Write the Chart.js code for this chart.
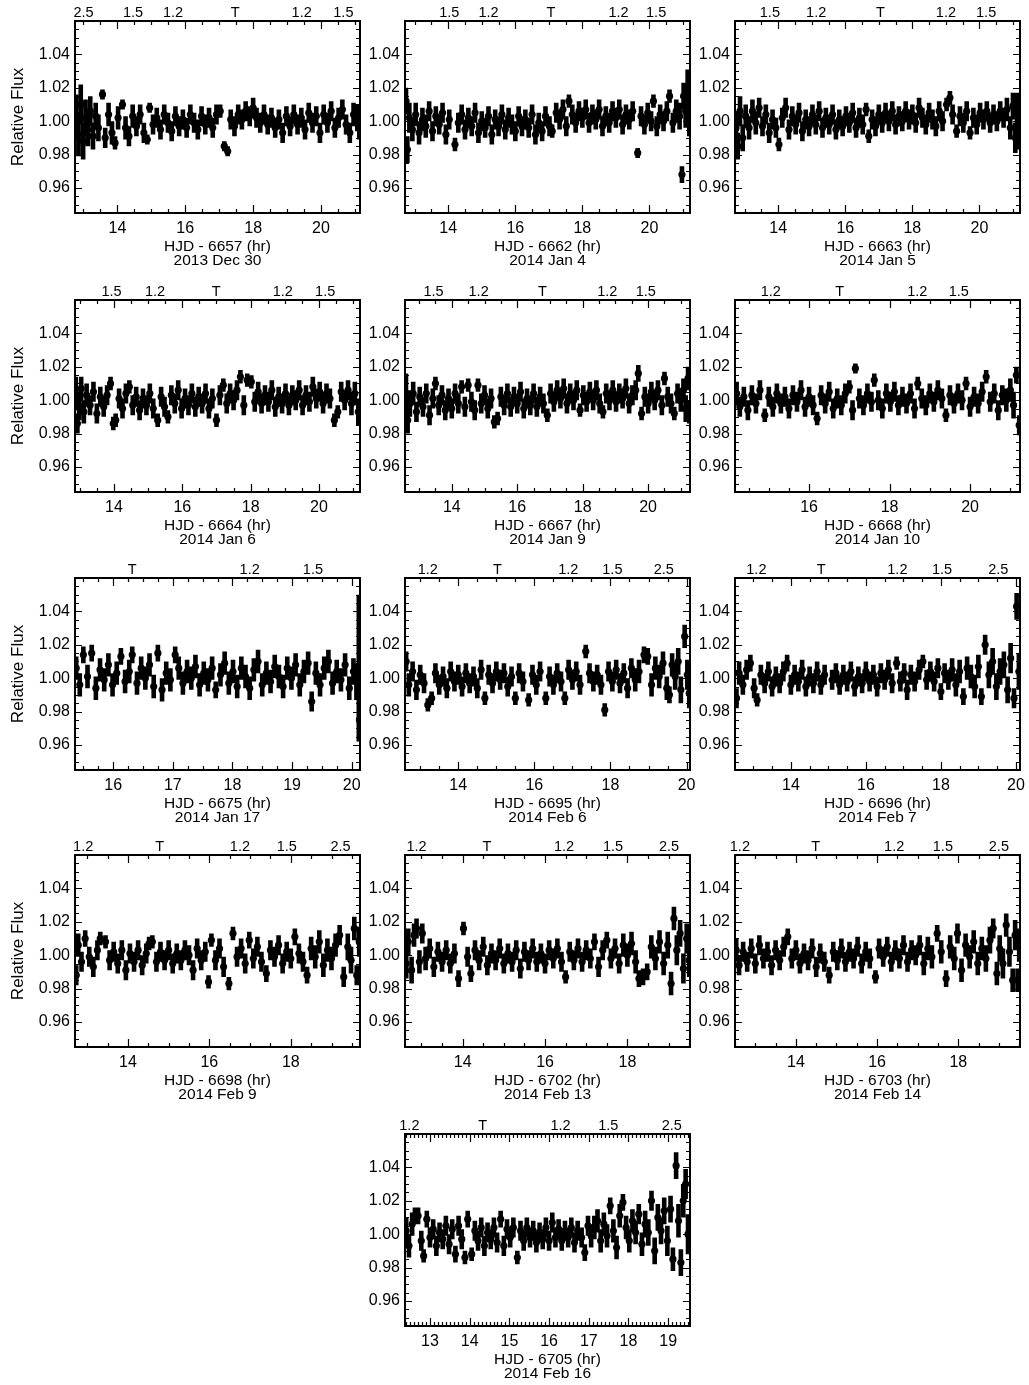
<!DOCTYPE html>
<html>
<head>
<meta charset="utf-8">
<title>Relative flux light curves</title>
<script src="https://cdn.jsdelivr.net/npm/chart.js@4.4.1/dist/chart.umd.min.js"></script>
<style>
  body { margin: 0; background: #fff; }
  #page { position: relative; width: 1029px; height: 1385px; }
  #page canvas { position: absolute; }
</style>
</head>
<body>
<div id="page"></div>
<script>
// each night: [hour, relative flux, error]
const dec30 = [[12.78,1.004,.012],[12.85,0.992,.013],[12.92,1.010,.012],[12.99,0.988,.011],[13.06,1.002,.011],[13.13,0.995,.010],[13.20,1.006,.009],[13.28,0.991,.008],[13.36,1.003,.008],[13.44,0.996,.008],[13.56,1.016,.003],[13.64,0.990,.006],[13.74,1.004,.007],[13.84,0.993,.007],[13.93,0.987,.004],[14.02,1.002,.007],[14.15,1.010,.003],[14.24,0.996,.007],[14.34,0.991,.006],[14.45,1.003,.007],[14.56,0.997,.006],[14.67,1.004,.006],[14.78,0.993,.006],[14.88,0.989,.003],[14.95,1.008,.003],[15.05,0.998,.006],[15.16,1.002,.006],[15.27,0.995,.006],[15.38,1.004,.006],[15.49,0.999,.006],[15.60,0.994,.006],[15.71,1.003,.006],[15.82,0.997,.006],[15.93,1.001,.006],[16.04,0.996,.006],[16.15,1.004,.006],[16.26,0.999,.006],[16.37,0.995,.006],[16.48,1.003,.006],[16.59,0.998,.006],[16.70,1.002,.006],[16.81,0.996,.006],[16.92,1.004,.006],[17.03,1.006,.004],[17.15,0.985,.003],[17.25,0.982,.003],[17.34,1.001,.006],[17.45,0.997,.006],[17.56,1.004,.006],[17.67,1.001,.006],[17.78,1.006,.006],[17.90,1.003,.006],[18.00,1.008,.006],[18.10,1.002,.006],[18.21,0.999,.006],[18.32,1.004,.006],[18.43,0.998,.006],[18.54,1.002,.006],[18.65,0.996,.006],[18.76,1.001,.006],[18.87,0.993,.006],[18.98,1.003,.006],[19.09,0.997,.006],[19.20,1.004,.006],[19.31,0.998,.006],[19.42,1.002,.006],[19.53,0.995,.006],[19.64,1.005,.006],[19.75,0.999,.006],[19.86,1.003,.006],[19.97,0.993,.006],[20.08,1.004,.006],[20.19,0.999,.006],[20.30,1.006,.006],[20.41,0.996,.006],[20.52,1.002,.006],[20.63,1.007,.006],[20.74,0.998,.006],[20.85,0.993,.006],[20.96,1.004,.007],[21.07,1.002,.008],[21.13,0.998,.009]];
const jan04 = [[12.74,1.012,.008],[12.78,0.983,.008],[12.84,1.002,.009],[12.93,0.995,.007],[13.03,1.004,.007],[13.13,0.993,.007],[13.23,1.001,.007],[13.33,0.997,.007],[13.43,1.006,.006],[13.53,0.994,.006],[13.63,1.003,.006],[13.73,0.998,.006],[13.83,1.005,.006],[13.93,0.992,.006],[14.03,1.001,.006],[14.20,0.986,.004],[14.30,0.999,.006],[14.40,1.004,.006],[14.50,0.995,.006],[14.60,1.002,.006],[14.70,0.997,.006],[14.80,1.005,.006],[14.90,0.993,.006],[15.00,1.000,.006],[15.10,0.996,.006],[15.20,1.003,.006],[15.30,0.992,.006],[15.40,1.001,.006],[15.50,0.997,.006],[15.60,1.004,.006],[15.70,0.995,.006],[15.80,1.002,.006],[15.90,0.998,.006],[16.00,0.994,.006],[16.10,1.003,.006],[16.20,0.997,.006],[16.30,1.001,.006],[16.40,0.996,.006],[16.50,1.004,.006],[16.60,0.992,.006],[16.70,0.999,.006],[16.80,0.994,.006],[16.90,1.003,.006],[17.02,0.997,.006],[17.10,0.994,.004],[17.22,1.005,.006],[17.32,1.001,.006],[17.42,1.007,.006],[17.52,0.997,.006],[17.60,1.012,.004],[17.70,1.004,.006],[17.80,0.999,.006],[17.90,1.006,.006],[18.00,1.002,.006],[18.10,1.007,.006],[18.20,0.999,.006],[18.30,1.004,.006],[18.40,1.001,.006],[18.50,1.007,.006],[18.60,0.997,.006],[18.70,1.003,.006],[18.80,0.999,.006],[18.90,1.006,.006],[19.00,1.002,.006],[19.10,1.007,.006],[19.20,0.998,.006],[19.30,1.004,.006],[19.40,1.001,.006],[19.50,1.006,.006],[19.65,0.981,.003],[19.75,1.003,.006],[19.85,0.998,.006],[19.95,1.005,.006],[20.05,1.000,.006],[20.12,1.012,.004],[20.22,0.997,.006],[20.32,1.004,.006],[20.42,1.000,.006],[20.52,1.006,.006],[20.60,1.015,.004],[20.70,0.999,.006],[20.80,1.006,.007],[20.90,1.003,.008],[20.97,0.968,.005],[21.02,1.015,.008],[21.08,1.006,.010],[21.14,1.020,.011],[21.19,1.003,.012]];
const jan05 = [[12.74,0.996,.010],[12.79,0.985,.008],[12.86,1.006,.009],[12.94,0.990,.008],[13.03,1.003,.007],[13.13,0.996,.007],[13.23,1.006,.007],[13.33,0.999,.007],[13.43,1.008,.006],[13.53,0.997,.006],[13.63,1.004,.006],[13.73,0.993,.006],[13.83,1.001,.006],[13.93,0.996,.006],[14.02,0.986,.004],[14.12,1.002,.006],[14.22,1.008,.006],[14.32,0.995,.006],[14.42,1.003,.006],[14.52,0.998,.006],[14.62,1.005,.006],[14.72,0.994,.006],[14.82,1.001,.006],[14.92,0.997,.006],[15.02,1.004,.006],[15.12,0.998,.006],[15.22,1.006,.006],[15.32,0.996,.006],[15.42,1.002,.006],[15.52,0.998,.006],[15.62,1.004,.006],[15.72,0.995,.006],[15.82,1.001,.006],[15.92,0.997,.006],[16.02,1.003,.006],[16.12,0.999,.006],[16.22,1.005,.006],[16.32,0.996,.006],[16.42,1.002,.006],[16.52,0.998,.006],[16.62,1.007,.004],[16.70,0.991,.004],[16.80,1.001,.006],[16.90,0.997,.006],[17.00,1.004,.006],[17.10,0.999,.006],[17.20,1.005,.006],[17.30,1.000,.006],[17.40,1.006,.006],[17.50,0.998,.006],[17.60,1.003,.006],[17.70,1.000,.006],[17.80,1.006,.006],[17.90,1.001,.006],[18.00,1.004,.006],[18.10,0.999,.006],[18.20,1.008,.006],[18.30,1.002,.006],[18.40,0.998,.006],[18.50,1.005,.006],[18.60,1.001,.006],[18.70,0.997,.006],[18.80,1.006,.006],[18.90,1.000,.006],[19.02,1.010,.004],[19.12,1.014,.004],[19.20,1.004,.006],[19.32,0.994,.004],[19.42,1.003,.006],[19.52,0.999,.006],[19.62,1.006,.006],[19.72,0.993,.004],[19.82,1.002,.006],[19.92,0.998,.006],[20.02,1.005,.006],[20.12,1.001,.006],[20.22,1.006,.006],[20.32,0.999,.006],[20.42,1.004,.006],[20.52,1.000,.006],[20.62,1.006,.006],[20.72,1.002,.006],[20.82,1.007,.007],[20.92,0.996,.007],[21.00,1.009,.008],[21.07,0.990,.009],[21.12,1.006,.011],[21.18,0.995,.012]];
const jan06 = [[12.88,1.004,.010],[12.93,0.986,.006],[12.98,0.996,.008],[13.04,1.007,.007],[13.12,0.993,.007],[13.20,1.003,.007],[13.30,0.997,.006],[13.40,1.005,.006],[13.50,0.992,.006],[13.60,1.002,.006],[13.70,0.996,.006],[13.80,1.003,.006],[13.90,1.010,.004],[13.98,0.986,.004],[14.05,0.988,.004],[14.15,1.001,.006],[14.25,0.995,.006],[14.35,1.004,.006],[14.45,1.008,.004],[14.55,0.997,.006],[14.65,1.002,.006],[14.75,0.994,.006],[14.85,1.001,.006],[14.95,0.997,.006],[15.05,1.004,.006],[15.15,0.995,.006],[15.28,0.988,.004],[15.38,1.002,.006],[15.48,0.996,.006],[15.58,0.990,.004],[15.68,1.003,.006],[15.78,0.998,.006],[15.88,1.006,.006],[15.98,0.995,.006],[16.08,1.001,.006],[16.18,0.997,.006],[16.28,1.004,.006],[16.38,0.996,.006],[16.48,1.002,.006],[16.58,0.998,.006],[16.68,1.004,.006],[16.78,0.995,.006],[16.88,1.001,.006],[17.00,0.988,.004],[17.10,1.003,.006],[17.20,1.009,.004],[17.30,0.998,.006],[17.40,1.004,.006],[17.50,1.000,.006],[17.60,1.006,.006],[17.70,1.014,.004],[17.80,0.997,.006],[17.90,1.012,.004],[18.02,1.011,.004],[18.12,0.999,.006],[18.22,1.005,.006],[18.32,0.998,.006],[18.42,1.003,.006],[18.52,0.999,.006],[18.62,1.006,.006],[18.72,0.996,.006],[18.82,1.002,.006],[18.92,0.998,.006],[19.02,1.004,.006],[19.12,0.997,.006],[19.22,1.003,.006],[19.32,1.000,.006],[19.42,1.006,.006],[19.52,0.997,.006],[19.62,1.003,.006],[19.72,0.999,.006],[19.82,1.008,.006],[19.92,1.001,.006],[20.02,1.005,.006],[20.12,0.998,.006],[20.22,1.004,.006],[20.32,1.001,.006],[20.45,0.988,.004],[20.55,0.993,.004],[20.65,1.005,.006],[20.75,1.000,.006],[20.85,1.006,.006],[20.95,0.998,.007],[21.05,1.004,.007],[21.15,0.993,.008]];
const jan09 = [[12.60,1.004,.012],[12.65,0.988,.008],[12.72,0.998,.008],[12.82,1.004,.007],[12.92,0.993,.006],[13.02,1.002,.006],[13.12,0.996,.006],[13.22,1.004,.006],[13.32,0.991,.006],[13.42,1.001,.006],[13.50,1.010,.004],[13.60,0.997,.006],[13.70,1.003,.006],[13.80,0.994,.006],[13.90,1.001,.006],[14.00,0.995,.006],[14.10,1.004,.006],[14.20,0.998,.006],[14.30,1.008,.004],[14.40,0.996,.006],[14.50,1.009,.004],[14.60,0.999,.006],[14.70,0.994,.006],[14.80,1.009,.004],[14.90,0.998,.006],[15.00,1.003,.006],[15.10,0.995,.006],[15.20,1.001,.006],[15.30,0.987,.004],[15.40,0.989,.004],[15.50,1.002,.006],[15.60,0.997,.006],[15.70,1.004,.006],[15.80,0.996,.006],[15.90,1.002,.006],[16.00,0.998,.006],[16.10,1.005,.006],[16.20,0.995,.006],[16.30,1.001,.006],[16.40,0.997,.006],[16.50,1.004,.006],[16.60,0.996,.006],[16.70,1.002,.006],[16.80,0.998,.006],[16.92,0.991,.004],[17.02,1.004,.006],[17.12,0.999,.006],[17.22,1.006,.006],[17.32,1.001,.006],[17.42,1.007,.006],[17.52,0.998,.006],[17.62,1.004,.006],[17.72,1.000,.006],[17.82,1.006,.006],[17.92,0.994,.004],[18.02,1.003,.006],[18.12,0.999,.006],[18.22,1.005,.006],[18.32,1.000,.006],[18.42,1.006,.006],[18.52,0.998,.006],[18.62,0.993,.004],[18.72,1.004,.006],[18.82,1.000,.006],[18.92,1.006,.006],[19.02,0.999,.006],[19.12,1.004,.006],[19.22,1.001,.006],[19.32,1.007,.006],[19.42,0.998,.006],[19.52,1.003,.006],[19.62,1.006,.006],[19.70,1.016,.005],[19.80,0.992,.004],[19.90,1.002,.006],[20.00,0.998,.006],[20.10,1.005,.006],[20.20,1.000,.006],[20.30,1.006,.006],[20.42,0.997,.006],[20.50,1.013,.004],[20.60,1.002,.006],[20.70,0.998,.006],[20.80,0.992,.004],[20.90,1.004,.006],[21.00,1.000,.007],[21.08,1.006,.007],[21.15,0.995,.008],[21.22,1.013,.007],[21.26,0.993,.007]];
const jan10 = [[14.20,1.004,.007],[14.28,0.996,.006],[14.38,1.002,.006],[14.48,0.994,.006],[14.58,1.003,.006],[14.68,0.998,.006],[14.78,1.006,.006],[14.90,0.991,.004],[15.00,1.002,.006],[15.10,0.996,.006],[15.20,1.004,.006],[15.30,0.998,.006],[15.40,1.002,.006],[15.50,0.995,.006],[15.60,1.003,.006],[15.70,0.999,.006],[15.80,1.006,.006],[15.90,0.996,.006],[16.00,1.002,.006],[16.10,0.997,.006],[16.20,0.989,.004],[16.30,1.003,.006],[16.40,0.998,.006],[16.50,1.005,.006],[16.60,0.995,.006],[16.70,1.001,.006],[16.80,0.997,.006],[16.90,1.004,.006],[17.00,1.008,.004],[17.08,0.994,.006],[17.15,1.019,.003],[17.25,1.001,.006],[17.35,0.997,.006],[17.45,1.004,.006],[17.55,0.999,.006],[17.62,1.012,.004],[17.72,1.000,.006],[17.82,0.995,.006],[17.92,1.004,.006],[18.02,0.999,.006],[18.12,1.005,.006],[18.22,0.997,.006],[18.32,1.002,.006],[18.42,0.998,.006],[18.52,1.004,.006],[18.62,0.995,.006],[18.70,1.010,.004],[18.80,1.001,.006],[18.90,0.997,.006],[19.00,1.004,.006],[19.10,0.999,.006],[19.20,1.006,.006],[19.30,1.001,.006],[19.40,0.991,.004],[19.50,1.003,.006],[19.60,0.998,.006],[19.70,1.004,.006],[19.80,1.000,.006],[19.90,1.010,.004],[20.00,0.996,.006],[20.10,1.002,.006],[20.20,0.998,.006],[20.30,1.005,.006],[20.40,1.014,.004],[20.50,0.999,.006],[20.60,1.004,.006],[20.70,0.994,.006],[20.80,1.003,.006],[20.90,1.000,.007],[21.00,1.006,.007],[21.08,0.997,.008],[21.15,1.015,.005],[21.22,0.985,.006]];
const jan17 = [[15.38,1.006,.007],[15.44,0.996,.007],[15.50,1.014,.005],[15.57,1.001,.007],[15.64,1.015,.005],[15.71,0.994,.007],[15.78,1.005,.007],[15.85,0.999,.007],[15.92,1.008,.007],[15.99,0.996,.007],[16.06,1.003,.007],[16.13,1.013,.005],[16.20,0.998,.007],[16.27,1.004,.007],[16.32,1.014,.005],[16.40,0.997,.007],[16.47,1.006,.007],[16.54,1.000,.007],[16.61,1.008,.007],[16.68,0.995,.007],[16.75,1.015,.005],[16.82,0.993,.007],[16.89,1.003,.007],[16.96,0.999,.007],[17.04,1.014,.005],[17.10,1.006,.007],[17.17,0.997,.007],[17.24,1.004,.007],[17.31,1.000,.007],[17.38,1.007,.007],[17.45,0.996,.007],[17.52,1.003,.007],[17.59,0.999,.007],[17.66,1.006,.007],[17.72,0.993,.005],[17.80,1.002,.007],[17.87,1.009,.007],[17.94,0.997,.007],[18.01,1.004,.007],[18.08,0.995,.007],[18.15,1.006,.007],[18.22,1.001,.007],[18.29,0.994,.007],[18.36,1.005,.007],[18.43,1.010,.007],[18.50,0.996,.007],[18.57,1.003,.007],[18.64,0.998,.007],[18.71,1.007,.007],[18.78,1.001,.007],[18.85,0.995,.007],[18.92,1.006,.007],[18.99,1.000,.007],[19.06,1.008,.007],[19.13,0.996,.007],[19.20,1.004,.007],[19.27,1.009,.007],[19.33,0.986,.006],[19.40,1.003,.007],[19.47,0.996,.007],[19.54,1.006,.007],[19.61,1.010,.007],[19.68,0.997,.007],[19.75,1.004,.007],[19.82,0.999,.007],[19.89,1.008,.007],[19.96,0.994,.007],[20.03,1.004,.008],[20.08,0.998,.011],[20.12,1.006,.044],[20.13,0.975,.012]];
const feb06 = [[12.63,1.010,.006],[12.70,0.996,.007],[12.80,1.004,.006],[12.90,0.993,.006],[13.00,1.002,.006],[13.10,0.997,.006],[13.20,0.984,.004],[13.30,0.988,.004],[13.40,1.003,.006],[13.50,0.996,.006],[13.60,1.001,.006],[13.70,0.994,.006],[13.80,1.004,.006],[13.90,0.998,.006],[14.00,1.002,.006],[14.10,0.995,.006],[14.20,1.003,.006],[14.30,0.997,.006],[14.40,1.001,.006],[14.50,0.994,.006],[14.60,1.005,.006],[14.70,0.988,.004],[14.80,1.002,.006],[14.90,0.997,.006],[15.00,1.004,.006],[15.10,0.999,.006],[15.20,1.003,.006],[15.30,0.995,.006],[15.40,1.001,.006],[15.50,0.988,.004],[15.60,1.003,.006],[15.70,0.998,.006],[15.85,0.987,.004],[15.95,1.002,.006],[16.05,0.996,.006],[16.15,1.004,.006],[16.30,0.988,.004],[16.40,1.001,.006],[16.50,0.996,.006],[16.60,1.003,.006],[16.70,0.998,.006],[16.80,0.988,.004],[16.90,1.005,.006],[17.00,0.999,.006],[17.10,1.004,.006],[17.20,0.996,.006],[17.35,1.016,.004],[17.45,1.003,.006],[17.55,0.998,.006],[17.65,1.002,.006],[17.75,0.996,.006],[17.85,0.981,.004],[17.95,1.004,.006],[18.05,0.998,.006],[18.15,1.005,.006],[18.25,0.997,.006],[18.35,1.003,.006],[18.45,0.994,.006],[18.55,1.006,.006],[18.65,0.999,.007],[18.75,1.004,.007],[18.88,1.014,.005],[18.98,1.013,.005],[19.08,0.996,.007],[19.18,1.006,.007],[19.28,1.001,.007],[19.38,1.009,.007],[19.48,0.994,.007],[19.55,0.990,.005],[19.62,1.008,.007],[19.70,1.001,.008],[19.78,1.010,.008],[19.85,0.993,.008],[19.95,1.025,.007],[20.02,1.002,.009],[20.07,0.991,.009]];
const feb07 = [[12.55,0.988,.006],[12.62,1.003,.007],[12.72,0.996,.006],[12.82,1.005,.006],[12.92,1.009,.005],[13.02,0.994,.006],[13.10,0.987,.004],[13.20,1.002,.006],[13.30,0.997,.006],[13.40,1.004,.006],[13.50,0.995,.006],[13.60,1.001,.006],[13.70,0.997,.006],[13.80,1.004,.006],[13.90,1.009,.005],[14.00,0.996,.006],[14.10,1.002,.006],[14.20,0.998,.006],[14.30,1.005,.006],[14.40,0.995,.006],[14.50,1.001,.006],[14.60,0.997,.006],[14.70,1.004,.006],[14.80,0.996,.006],[14.90,1.002,.006],[15.10,0.999,.006],[15.20,1.003,.006],[15.30,0.996,.006],[15.40,1.002,.006],[15.50,0.998,.006],[15.60,1.004,.006],[15.70,0.995,.006],[15.80,1.001,.006],[15.90,0.997,.006],[16.00,1.004,.006],[16.10,0.998,.006],[16.20,1.002,.006],[16.30,0.995,.006],[16.40,1.003,.006],[16.50,0.999,.006],[16.60,1.005,.006],[16.70,0.997,.006],[16.82,1.009,.004],[16.92,0.998,.006],[17.02,1.003,.006],[17.10,0.993,.006],[17.20,1.002,.006],[17.30,0.998,.006],[17.42,1.005,.006],[17.52,1.010,.004],[17.62,0.999,.006],[17.72,1.004,.006],[17.82,0.998,.006],[17.92,1.006,.006],[18.00,0.992,.005],[18.10,1.003,.006],[18.20,0.999,.006],[18.30,1.005,.007],[18.40,0.996,.007],[18.50,1.004,.007],[18.60,0.989,.005],[18.70,1.006,.007],[18.80,1.001,.007],[18.90,0.995,.007],[19.00,1.007,.007],[19.08,0.989,.005],[19.18,1.020,.006],[19.28,1.002,.008],[19.38,1.010,.008],[19.48,0.995,.008],[19.58,1.004,.008],[19.68,1.008,.008],[19.78,0.993,.008],[19.86,1.012,.009],[19.95,0.988,.006],[20.02,1.043,.008],[20.08,1.004,.011]];
const feb09 = [[12.73,0.988,.006],[12.78,1.006,.007],[12.86,0.996,.006],[12.95,1.010,.005],[13.05,0.999,.006],[13.15,0.993,.006],[13.25,1.003,.006],[13.32,1.010,.004],[13.45,1.008,.004],[13.55,0.997,.006],[13.65,1.002,.006],[13.75,0.995,.006],[13.85,1.003,.006],[13.95,0.991,.006],[14.05,1.001,.006],[14.15,0.996,.006],[14.25,1.003,.006],[14.35,0.994,.006],[14.45,1.001,.006],[14.52,1.007,.004],[14.60,1.008,.004],[14.70,0.996,.006],[14.80,1.002,.006],[14.90,0.997,.006],[15.00,1.003,.006],[15.10,0.995,.006],[15.20,1.001,.006],[15.30,0.997,.006],[15.40,1.003,.006],[15.50,1.000,.006],[15.60,0.991,.006],[15.70,1.004,.006],[15.80,0.997,.006],[15.90,1.002,.006],[15.98,0.984,.004],[16.05,1.009,.004],[16.15,0.997,.006],[16.25,1.004,.006],[16.35,0.993,.006],[16.48,0.983,.004],[16.58,1.013,.004],[16.68,0.999,.006],[16.78,1.004,.006],[16.88,0.995,.006],[16.98,1.009,.005],[17.08,0.998,.006],[17.18,1.005,.006],[17.28,0.996,.006],[17.40,0.989,.005],[17.50,1.003,.006],[17.60,0.999,.006],[17.70,1.006,.006],[17.80,0.995,.006],[17.90,1.002,.006],[18.00,0.998,.006],[18.10,1.011,.005],[18.20,1.001,.006],[18.30,0.996,.006],[18.40,0.988,.005],[18.50,1.004,.007],[18.60,0.999,.007],[18.70,1.008,.007],[18.80,0.994,.007],[18.90,1.003,.007],[19.00,0.998,.007],[19.10,1.006,.007],[19.20,1.012,.006],[19.30,0.987,.006],[19.40,1.005,.008],[19.48,0.997,.008],[19.56,1.016,.007],[19.62,0.988,.006],[19.68,1.008,.009]];
const feb13 = [[12.63,0.995,.009],[12.68,1.008,.008],[12.76,0.991,.008],[12.82,1.012,.007],[12.88,1.016,.006],[12.95,0.996,.007],[13.02,1.013,.006],[13.10,0.998,.007],[13.20,1.004,.006],[13.30,0.993,.006],[13.40,1.002,.006],[13.50,0.996,.006],[13.60,1.003,.006],[13.70,0.995,.006],[13.80,1.001,.006],[13.90,0.986,.005],[14.02,1.016,.004],[14.12,0.999,.006],[14.20,0.989,.005],[14.30,1.003,.006],[14.40,0.997,.006],[14.50,1.005,.006],[14.60,0.994,.006],[14.70,1.001,.006],[14.80,0.997,.006],[14.90,1.004,.006],[15.00,0.995,.006],[15.10,1.001,.006],[15.20,0.996,.006],[15.30,1.003,.006],[15.40,0.992,.006],[15.50,1.002,.006],[15.60,0.997,.006],[15.70,1.004,.006],[15.80,0.996,.006],[15.90,1.001,.006],[16.00,0.995,.006],[16.10,1.003,.006],[16.20,0.998,.006],[16.30,1.004,.006],[16.40,0.996,.006],[16.50,0.987,.004],[16.60,1.002,.006],[16.70,0.997,.006],[16.80,1.004,.006],[16.90,0.996,.006],[17.00,1.003,.006],[17.10,0.998,.006],[17.20,1.008,.005],[17.30,0.993,.006],[17.40,1.003,.006],[17.50,1.009,.005],[17.60,0.998,.006],[17.70,1.004,.006],[17.80,0.995,.006],[17.90,1.006,.007],[18.00,1.000,.007],[18.10,1.007,.007],[18.20,0.996,.007],[18.28,0.986,.005],[18.38,0.987,.005],[18.48,0.990,.005],[18.58,1.005,.007],[18.68,0.998,.007],[18.78,1.008,.007],[18.88,0.995,.007],[18.98,1.006,.008],[19.06,0.983,.007],[19.13,1.022,.007],[19.20,1.003,.009],[19.28,1.013,.008],[19.36,0.992,.009],[19.44,1.010,.009],[19.50,0.997,.010]];
const feb14 = [[12.53,1.003,.007],[12.60,0.994,.006],[12.70,1.002,.006],[12.80,0.996,.006],[12.90,1.004,.006],[13.00,0.995,.006],[13.10,1.006,.006],[13.20,0.998,.006],[13.30,1.002,.006],[13.40,0.994,.006],[13.50,1.003,.006],[13.60,0.997,.006],[13.70,1.005,.006],[13.80,1.011,.005],[13.90,0.998,.006],[14.00,1.003,.006],[14.10,0.995,.006],[14.20,1.001,.006],[14.30,0.997,.006],[14.40,1.004,.006],[14.50,0.993,.006],[14.60,1.001,.006],[14.70,0.996,.006],[14.82,0.988,.005],[14.92,1.002,.006],[15.02,0.997,.006],[15.12,1.004,.006],[15.22,0.996,.006],[15.32,1.002,.006],[15.42,0.998,.006],[15.52,1.005,.006],[15.62,0.995,.006],[15.72,1.002,.006],[15.82,0.998,.006],[15.96,0.987,.004],[16.05,1.004,.006],[16.15,0.999,.006],[16.25,1.005,.006],[16.35,0.996,.006],[16.45,1.003,.006],[16.55,0.998,.006],[16.65,1.006,.006],[16.75,0.996,.006],[16.85,1.003,.006],[16.95,1.000,.006],[17.05,1.006,.006],[17.15,0.995,.007],[17.25,1.004,.007],[17.35,0.999,.007],[17.48,1.013,.005],[17.58,1.002,.007],[17.70,0.986,.005],[17.80,1.005,.007],[17.90,0.998,.007],[17.98,1.013,.006],[18.08,0.991,.007],[18.18,1.006,.007],[18.28,0.999,.007],[18.38,1.008,.007],[18.48,0.995,.007],[18.58,1.004,.007],[18.68,0.998,.008],[18.78,1.009,.008],[18.86,1.016,.006],[18.95,0.989,.007],[19.02,1.004,.008],[19.10,0.995,.009],[19.18,1.018,.007],[19.26,1.002,.009],[19.34,0.985,.007],[19.40,1.012,.009],[19.46,0.985,.007],[19.50,1.006,.010]];
const feb16 = [[12.40,1.002,.008],[12.47,0.993,.007],[12.55,1.006,.007],[12.62,1.011,.005],[12.70,1.011,.005],[12.78,0.996,.006],[12.84,0.987,.004],[12.92,1.009,.005],[13.00,0.998,.006],[13.08,1.003,.006],[13.16,0.993,.006],[13.24,1.001,.006],[13.32,0.997,.006],[13.40,1.005,.006],[13.48,0.994,.006],[13.56,1.003,.006],[13.64,0.988,.005],[13.72,1.005,.006],[13.80,0.997,.006],[13.88,0.986,.004],[13.95,1.009,.005],[14.05,0.988,.004],[14.13,1.002,.006],[14.21,0.996,.006],[14.29,1.004,.006],[14.37,0.993,.006],[14.45,1.001,.006],[14.53,0.997,.006],[14.61,1.004,.006],[14.69,0.995,.006],[14.78,1.009,.005],[14.86,0.993,.006],[14.94,1.003,.006],[15.02,0.998,.006],[15.10,1.004,.006],[15.20,0.986,.004],[15.28,1.002,.006],[15.36,0.996,.006],[15.44,1.004,.006],[15.52,0.998,.006],[15.60,1.002,.006],[15.68,0.995,.006],[15.76,1.001,.006],[15.84,0.997,.006],[15.92,1.004,.006],[16.00,0.996,.006],[16.08,1.007,.006],[16.16,0.998,.006],[16.24,1.003,.006],[16.32,0.996,.006],[16.40,1.002,.006],[16.48,0.998,.006],[16.56,1.004,.006],[16.64,0.995,.006],[16.72,1.002,.006],[16.82,0.998,.006],[16.90,0.989,.005],[16.98,1.005,.006],[17.06,0.999,.007],[17.14,1.004,.007],[17.22,1.008,.007],[17.30,0.996,.007],[17.38,1.006,.007],[17.46,0.999,.007],[17.54,1.017,.005],[17.62,1.002,.007],[17.70,0.992,.007],[17.78,1.011,.007],[17.86,1.019,.005],[17.94,1.004,.007],[18.02,0.996,.007],[18.10,1.008,.007],[18.18,1.001,.007],[18.26,1.012,.006],[18.34,0.994,.007],[18.42,1.006,.008],[18.50,1.001,.008],[18.58,1.020,.006],[18.66,0.990,.008],[18.74,1.010,.008],[18.82,1.002,.008],[18.90,1.014,.008],[18.98,0.996,.009],[19.06,1.015,.008],[19.12,0.985,.007],[19.20,1.041,.008],[19.26,1.008,.010],[19.32,0.983,.008],[19.38,1.020,.010],[19.44,1.030,.009],[19.50,1.000,.012]];

// tick labels
const yTicks = [0.96, 0.98, 1.00, 1.02, 1.04];
const xTicksA = [14, 16, 18, 20];
const xTicksB = [16, 18, 20];
const xTicksC = [16, 17, 18, 19, 20];
const xTicksD = [14, 16, 18];
const xTicksE = [13, 14, 15, 16, 17, 18, 19];

// airmass markers along the top axis (T = transit)
const airLabA = ['2.5', '1.5', '1.2', 'T', '1.2', '1.5'];
const airLabB = ['1.5', '1.2', 'T', '1.2', '1.5'];
const airLabC = ['1.2', 'T', '1.2', '1.5'];
const airLabD = ['T', '1.2', '1.5'];
const airLabE = ['1.2', 'T', '1.2', '1.5', '2.5'];
const airDec30 = [13.0, 14.46, 15.64, 17.47, 19.43, 20.66];
const airJan04 = [14.03, 15.2, 17.06, 19.08, 20.2];
const airJan05 = [13.75, 15.13, 17.05, 19.0, 20.2];
const airJan06 = [13.93, 15.2, 16.99, 18.94, 20.18];
const airJan09 = [13.44, 14.82, 16.77, 18.75, 19.93];
const airJan10 = [15.05, 16.76, 18.69, 19.72];
const airJan17 = [16.32, 18.29, 19.35];
const airFeb06 = [13.2, 15.03, 16.89, 18.05, 19.4];
const airFeb07 = [13.08, 14.81, 16.84, 18.03, 19.53];
const airFeb09 = [12.9, 14.78, 16.75, 17.9, 19.22];
const airFeb13 = [12.88, 14.59, 16.46, 17.65, 19.01];
const airFeb14 = [12.62, 14.49, 16.42, 17.62, 19.0];
const airFeb16 = [12.48, 14.33, 16.29, 17.49, 19.09];

const nights = [
  { rows: dec30, hjd: 6657, date: '2013 Dec 30', min: 12.75, max: 21.15, xt: xTicksA, minor: 0.5, air: airDec30, lab: airLabA },
  { rows: jan04, hjd: 6662, date: '2014 Jan 4', min: 12.71, max: 21.21, xt: xTicksA, minor: 0.5, air: airJan04, lab: airLabB },
  { rows: jan05, hjd: 6663, date: '2014 Jan 5', min: 12.71, max: 21.21, xt: xTicksA, minor: 0.5, air: airJan05, lab: airLabB },
  { rows: jan06, hjd: 6664, date: '2014 Jan 6', min: 12.86, max: 21.2, xt: xTicksA, minor: 0.5, air: airJan06, lab: airLabB },
  { rows: jan09, hjd: 6667, date: '2014 Jan 9', min: 12.57, max: 21.28, xt: xTicksA, minor: 0.5, air: airJan09, lab: airLabB },
  { rows: jan10, hjd: 6668, date: '2014 Jan 10', min: 14.16, max: 21.24, xt: xTicksB, minor: 0.5, air: airJan10, lab: airLabC },
  { rows: jan17, hjd: 6675, date: '2014 Jan 17', min: 15.36, max: 20.14, xt: xTicksC, minor: 0.25, air: airJan17, lab: airLabD },
  { rows: feb06, hjd: 6695, date: '2014 Feb 6', min: 12.6, max: 20.09, xt: xTicksA, minor: 0.5, air: airFeb06, lab: airLabE },
  { rows: feb07, hjd: 6696, date: '2014 Feb 7', min: 12.51, max: 20.11, xt: xTicksA, minor: 0.5, air: airFeb07, lab: airLabE },
  { rows: feb09, hjd: 6698, date: '2014 Feb 9', min: 12.7, max: 19.7, xt: xTicksD, minor: 0.5, air: airFeb09, lab: airLabE },
  { rows: feb13, hjd: 6702, date: '2014 Feb 13', min: 12.6, max: 19.52, xt: xTicksD, minor: 0.5, air: airFeb13, lab: airLabE },
  { rows: feb14, hjd: 6703, date: '2014 Feb 14', min: 12.5, max: 19.52, xt: xTicksD, minor: 0.5, air: airFeb14, lab: airLabE },
  { rows: feb16, hjd: 6705, date: '2014 Feb 16', min: 12.37, max: 19.55, xt: xTicksE, minor: 0.1, air: airFeb16, lab: airLabE }
];

const FONT = '"Liberation Sans", Arial, Helvetica, sans-serif';
Chart.defaults.font.family = FONT;
Chart.defaults.color = '#000';

// canvas placement: 3 columns, plot box 285 x 192
const colLeft = [0, 330, 660];
const rowTop = [0, 279, 557, 834, 1113];
const CW = 368, CH = 275;

function steps(min, max, step) {
  const out = [];
  for (let k = Math.ceil(min / step - 1e-9); k * step <= max + 1e-9; k++) out.push(+(k * step).toFixed(4));
  return out;
}

// vertical error bars, drawn under the points
const errorBars = {
  id: 'errorBars',
  beforeDatasetsDraw(chart) {
    const { ctx, chartArea: a, scales: { x, y } } = chart;
    ctx.save();
    ctx.beginPath();
    ctx.rect(a.left, a.top, a.right - a.left, a.bottom - a.top);
    ctx.clip();
    ctx.strokeStyle = '#000';
    ctx.lineWidth = 4.6;
    ctx.beginPath();
    chart.data.datasets[0].data.forEach(p => {
      const px = x.getPixelForValue(p.x);
      ctx.moveTo(px, y.getPixelForValue(p.y - p.e));
      ctx.lineTo(px, y.getPixelForValue(p.y + p.e));
    });
    ctx.stroke();
    ctx.restore();
  }
};

// box with inward ticks on all four sides
const frameTicks = {
  id: 'frameTicks',
  afterDraw(chart, args, opts) {
    const { ctx, chartArea: a, scales: { x, y } } = chart;
    const isMajor = (list, v) => list.some(m => Math.abs(m - v) < 1e-6);
    ctx.save();
    ctx.strokeStyle = '#000';
    ctx.lineWidth = 1.2;
    ctx.beginPath();
    steps(x.min, x.max, opts.minor).forEach(v => {
      const px = Math.round(x.getPixelForValue(v)) + 0.5;
      const len = isMajor(opts.xt, v) ? 8 : 4;
      ctx.moveTo(px, a.bottom); ctx.lineTo(px, a.bottom - len);
      ctx.moveTo(px, a.top); ctx.lineTo(px, a.top + len);
    });
    steps(y.min, y.max, 0.005).forEach(v => {
      const py = Math.round(y.getPixelForValue(v)) + 0.5;
      const len = isMajor(yTicks, v) ? 7 : 4;
      ctx.moveTo(a.left, py); ctx.lineTo(a.left + len, py);
      ctx.moveTo(a.right, py); ctx.lineTo(a.right - len, py);
    });
    ctx.stroke();
    ctx.lineWidth = 2;
    ctx.strokeRect(a.left, a.top, a.right - a.left, a.bottom - a.top);
    ctx.restore();
  }
};

const page = document.getElementById('page');

nights.forEach((n, i) => {
  const col = i === 12 ? 1 : i % 3;
  const row = Math.floor(i / 3);
  const cv = document.createElement('canvas');
  cv.width = CW;
  cv.height = CH;
  cv.style.left = colLeft[col] + 'px';
  cv.style.top = rowTop[row] + 'px';
  page.appendChild(cv);

  new Chart(cv, {
    type: 'scatter',
    data: {
      datasets: [{
        data: n.rows.map(r => ({ x: r[0], y: r[1], e: r[2] })),
        pointRadius: 3.6,
        pointBackgroundColor: '#000',
        pointBorderWidth: 0,
        showLine: false
      }]
    },
    options: {
      responsive: false,
      animation: false,
      devicePixelRatio: 1,
      layout: { padding: { left: 0, right: 8, top: 0, bottom: 0 } },
      plugins: {
        legend: { display: false },
        tooltip: { enabled: false },
        frameTicks: { minor: n.minor, xt: n.xt }
      },
      scales: {
        x: {
          type: 'linear',
          position: 'bottom',
          min: n.min,
          max: n.max,
          bounds: 'data',
          grid: { display: false, drawTicks: false },
          border: { display: false },
          afterBuildTicks: s => { s.ticks = n.xt.map(v => ({ value: v })); },
          afterFit: s => { s.height = 62; s.paddingLeft = 0; s.paddingRight = 0; },
          ticks: { autoSkip: false, maxRotation: 0, padding: 6, font: { size: 16 }, callback: v => String(v) },
          title: {
            display: true,
            text: ['HJD - ' + n.hjd + ' (hr)', n.date],
            font: { size: 15.5, lineHeight: 0.9 },
            padding: { top: 0, bottom: 7 }
          }
        },
        x2: {
          type: 'linear',
          position: 'top',
          min: n.min,
          max: n.max,
          bounds: 'data',
          grid: { display: false, drawTicks: false },
          border: { display: false },
          afterBuildTicks: s => { s.ticks = n.air.map(v => ({ value: v })); },
          afterFit: s => { s.height = 21; s.paddingLeft = 0; s.paddingRight = 0; },
          ticks: { autoSkip: false, maxRotation: 0, padding: 1, font: { size: 14.5, lineHeight: 1.0 }, callback: (v, k) => n.lab[k] }
        },
        y: {
          type: 'linear',
          position: 'left',
          min: 0.945,
          max: 1.06,
          bounds: 'data',
          grid: { display: false, drawTicks: false },
          border: { display: false },
          afterBuildTicks: s => { s.ticks = yTicks.map(v => ({ value: v })); },
          afterFit: s => { s.width = 75; s.paddingTop = 0; s.paddingBottom = 0; },
          ticks: { autoSkip: false, padding: 5, font: { size: 16 }, callback: v => v.toFixed(2) },
          title: {
            display: col === 0,
            text: 'Relative Flux',
            font: { size: 17 },
            padding: { top: 8, bottom: 0 }
          }
        }
      }
    },
    plugins: [errorBars, frameTicks]
  });
});
</script>
</body>
</html>
